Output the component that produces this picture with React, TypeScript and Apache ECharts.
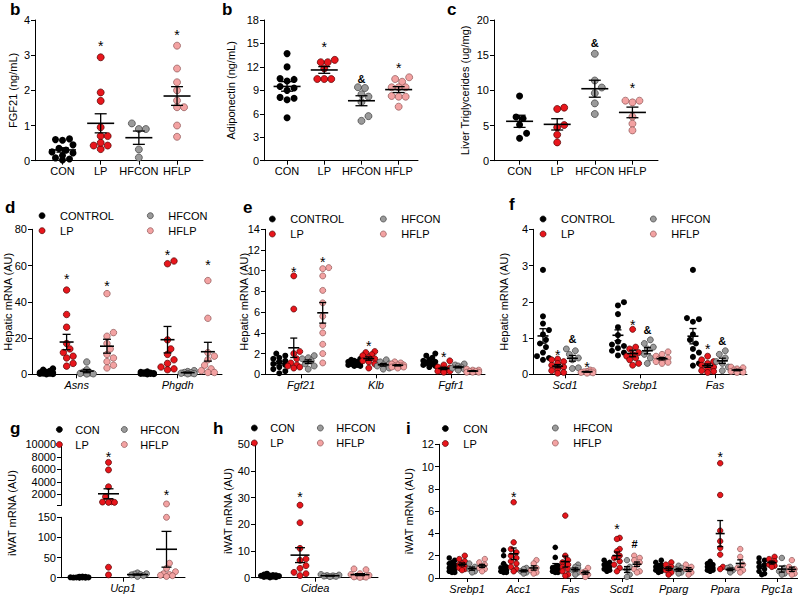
import React, { useEffect, useRef } from "react";
import * as echarts from "echarts";

const FONT = "'Liberation Sans', Arial, Helvetica, sans-serif";

// ---------- group names & colours ----------
const namesLong = ["CONTROL", "LP", "HFCON", "HFLP"];
const namesShort = ["CON", "LP", "HFCON", "HFLP"];
const fills = ["#000000", "#e8161c", "#9a9a9a", "#f3a2a2"];
const edges = ["#000000", "#520000", "#3c3c3c", "#8c5454"];

// ---------- panel b : plasma FGF21 ----------
const plasmaCategories = ["CON", "LP", "HFCON", "HFLP"];
const fgf21Axis = [0, 4, 1];
const fgf21Con = [0.6, 0.58, 0.62, 0.45, 0.35, 0.3, 0.22, 0.25, 0.15, 0.02, 0.05, 0.08];
const fgf21Lp = [2.94, 1.94, 1.7, 0.95, 0.7, 0.7, 0.43, 0.43, 0.33, 0.51];
const fgf21Hfcon = [1.06, 0.9, 0.9, 0.32, 0.09];
const fgf21Hflp = [3.27, 2.62, 2.23, 2.0, 1.71, 1.52, 1.52, 1.0, 0.68];
const sigFgf21 = [["*", 0, 1, 3.34], ["*", 0, 3, 3.65]];

// ---------- panel b : adiponectin ----------
const adipoAxis = [0, 18, 3];
const adipoCon = [13.7, 12.0, 10.5, 10.4, 10.2, 9.5, 9.3, 9.0, 8.1, 8.0, 7.8, 5.5];
const adipoLp = [12.6, 12.9, 12.6, 11.8, 10.45, 10.45, 10.45];
const adipoHfcon = [9.4, 9.3, 8.2, 8.5, 7.5, 5.7, 5.1];
const adipoHflp = [10.45, 10.67, 10.1, 9.39, 9.39, 9.39, 8.19, 8.19, 8.28, 6.91];
const sigAdipo = [["*", 0, 1, 14.9], ["&", 0, 2, 10.5], ["*", 0, 3, 12.2]];

// ---------- panel c : liver triglycerides ----------
const tgAxis = [0, 20, 5];
const tgCon = [9.2, 6.2, 6.0, 5.1, 3.9, 3.2];
const tgLp = [7.35, 7.54, 4.74, 5.07, 3.7, 2.6];
const tgHfcon = [15.2, 11.4, 10.4, 9.6, 8.15, 6.64];
const tgHflp = [8.53, 8.29, 8.53, 6.26, 5.26, 4.31];
const sigTg = [["&", 0, 2, 16.7], ["*", 0, 3, 10.76]];

// ---------- panel d : hepatic Asns / Phgdh ----------
const genesD = ["Asns", "Phgdh"];
const axisD = [0, 80, 20];
const asnsCon = [3.2, 2.5, 1.8, 1.2, 1.0, 0.8, 0.6, 0.5, 0.4, 0.3, 0.2, 0.1];
const asnsLp = [46.5, 33, 26, 17, 14, 12, 10, 9, 6, 4.5];
const asnsHfcon = [6.8, 2.5, 1.2, 0.8, 0.5, 0.3, 0.2];
const asnsHflp = [44.5, 23, 21, 17, 14, 11, 9, 7, 5, 3.5];
const phgdhCon = [1.5, 1.2, 1.0, 0.8, 0.7, 0.6, 0.5, 0.4, 0.3, 0.3, 0.2, 0.1];
const phgdhLp = [62.5, 61, 19, 14, 11, 8, 6, 4, 3, 2.5];
const phgdhHfcon = [2, 1.5, 1, 0.8, 0.6, 0.4, 0.3];
const phgdhHflp = [51.7, 30.9, 12, 10, 8, 5, 3, 2, 1, 1];
const sigD = [["*", 0, 1, 54.3], ["*", 0, 3, 50.6], ["*", 1, 1, 67.3], ["*", 1, 3, 61.8]];

// ---------- panel e : hepatic Fgf21 / Klb / Fgfr1 ----------
const genesE = ["Fgf21", "Klb", "Fgfr1"];
const axisE = [0, 14, 2];
const hFgf21Con = [2.0, 1.8, 1.6, 1.5, 1.3, 1.2, 1.0, 0.9, 0.7, 0.5, 0.3, 0.1];
const hFgf21Lp = [9.5, 6.3, 2.2, 2.0, 1.5, 1.1, 0.9, 0.8, 0.7, 0.6];
const hFgf21Hfcon = [1.8, 1.6, 1.5, 1.3, 1.0, 0.8, 0.5];
const hFgf21Hflp = [10.3, 10.2, 9.5, 8.1, 6.9, 5.6, 4.7, 4.0, 2.9, 2.0, 1.1];
const klbCon = [1.5, 1.4, 1.3, 1.2, 1.2, 1.1, 1.0, 1.0, 0.9, 0.9, 0.8, 0.8];
const klbLp = [2.2, 2.1, 1.9, 1.8, 1.6, 1.5, 1.3, 1.2, 1.0, 0.6];
const klbHfcon = [1.4, 1.2, 1.0, 0.9, 0.8, 0.6, 0.5];
const klbHflp = [1.2, 1.1, 1.0, 0.9, 0.9, 0.8, 0.8, 0.7, 0.7, 0.6];
const fgfr1Con = [2.0, 1.8, 1.6, 1.4, 1.3, 1.2, 1.1, 1.0, 1.0, 0.9, 0.8, 0.7];
const fgfr1Lp = [1.3, 0.9, 0.7, 0.6, 0.5, 0.4, 0.4, 0.3, 0.3, 0.2];
const fgfr1Hfcon = [1.0, 0.9, 0.8, 0.7, 0.6, 0.5, 0.4];
const fgfr1Hflp = [0.5, 0.4, 0.4, 0.3, 0.3, 0.2, 0.2, 0.2];
const sigE = [["*", 0, 1, 10.2], ["*", 0, 3, 11.1], ["*", 1, 1, 3.0], ["*", 2, 1, 1.96]];

// ---------- panel f : hepatic Scd1 / Srebp1 / Fas ----------
const genesF = ["Scd1", "Srebp1", "Fas"];
const axisF = [0, 4, 1];
const scd1Con = [2.88, 1.6, 1.4, 1.22, 1.1, 0.95, 0.85, 0.75, 0.6, 0.5, 0.45, 0.4];
const scd1Lp = [0.42, 0.4, 0.35, 0.3, 0.25, 0.2, 0.15, 0.1, 0.05, 0.03];
const scd1Hfcon = [0.7, 0.65, 0.55, 0.45, 0.4, 0.18, 0.16];
const scd1Hflp = [0.12, 0.1, 0.08, 0.07, 0.06, 0.05, 0.04, 0.03];
const srebp1Con = [1.99, 1.9, 1.66, 1.3, 1.08, 0.9, 0.82, 0.78, 0.72, 0.65, 0.6, 0.52];
const srebp1Lp = [1.24, 0.75, 0.7, 0.6, 0.55, 0.5, 0.45, 0.4, 0.3, 0.25];
const srebp1Hfcon = [0.95, 0.85, 0.75, 0.7, 0.55, 0.45, 0.3];
const srebp1Hflp = [0.62, 0.55, 0.5, 0.45, 0.42, 0.4, 0.38, 0.35, 0.33, 0.3];
const fasCon = [2.88, 1.55, 1.52, 1.45, 1.1, 0.95, 0.85, 0.7, 0.6, 0.48, 0.24, 0.3];
const fasLp = [0.5, 0.4, 0.35, 0.3, 0.25, 0.2, 0.15, 0.1, 0.08, 0.05];
const fasHfcon = [0.65, 0.55, 0.45, 0.35, 0.3, 0.2, 0.1];
const fasHflp = [0.2, 0.18, 0.15, 0.12, 0.1, 0.08, 0.06, 0.05];
const sigF = [["*", 0, 1, 0.61], ["&", 0, 2, 0.97], ["*", 0, 3, 0.29], ["*", 1, 1, 1.43], ["&", 1, 2, 1.22], ["*", 2, 1, 0.79], ["&", 2, 2, 0.93]];

// ---------- panel g : iWAT Ucp1 (broken axis) ----------
const genesG = ["Ucp1"];
const axisGLow = [0, 150, 50];
const axisGHigh = [200, 10000];
const ticksGHigh = [2000, 4000, 6000, 8000, 10000];
const ucp1Con = [3, 2.5, 2, 1.5, 1.2, 1, 0.8, 0.6, 0.5, 0.3, 0.2, 0.1];
const ucp1Lp = [7100, 5900, 3200, 1600, 800, 700, 700, 750, 26, 7];
const ucp1Hfcon = [12, 10, 9, 8, 7, 5, 3];
const ucp1Hflp = [450, 150, 36, 23, 15, 10, 8, 6, 5, 3];
const sigG = [["*", 0, 1, 8450], ["*", 0, 3, 2416]];

// ---------- panel h : iWAT Cidea ----------
const genesH = ["Cidea"];
const axisH = [0, 50, 10];
const cideaCon = [1.5, 1.2, 1.0, 0.9, 0.8, 0.7, 0.6, 0.5, 0.4, 0.3, 0.2, 0.1];
const cideaLp = [27.2, 20.6, 11, 7, 6.5, 4.5, 3.5, 2, 1.5, 0.8];
const cideaHfcon = [1.2, 1.0, 0.8, 0.7, 0.6, 0.5, 0.4];
const cideaHflp = [3.3, 3.0, 1.5, 1.2, 0.9, 0.6, 0.4, 0.3, 0.2, 0.1];
const sigH = [["*", 0, 1, 31.3]];

// ---------- panel i : iWAT lipid genes ----------
const genesI = ["Srebp1", "Acc1", "Fas", "Scd1", "Pparg", "Ppara", "Pgc1a"];
const axisI = [0, 12, 2];
const iSrebp1 = [[1.8, 1.6, 1.4, 1.3, 1.2, 1.0, 0.9, 0.8, 0.7, 0.6, 0.5, 0.5], [2.0, 1.7, 1.5, 1.3, 1.2, 1.1, 1.0, 0.9, 0.8, 0.7], [1.3, 1.0, 0.8, 0.6, 0.5], [1.7, 1.4, 1.2, 1.0, 0.9, 0.8, 0.6]];
const iAcc1 = [[2.5, 2.0, 1.3, 1.0, 0.9, 0.8, 0.7, 0.6, 0.6, 0.5, 0.5], [6.8, 3.2, 2.6, 2.3, 2.0, 1.8, 1.5, 1.3, 1.0, 0.8, 0.6], [0.9, 0.8, 0.6, 0.5, 0.4], [1.6, 1.3, 0.9, 0.7, 0.5, 0.4]];
const iFas = [[2.75, 1.85, 1.1, 1.0, 0.9, 0.8, 0.7, 0.6, 0.5, 0.5], [5.6, 2.0, 1.6, 1.4, 1.2, 1.0, 0.8, 0.6, 0.3, 0.2], [1.2, 1.0, 0.9, 0.7, 0.5, 0.3], [0.9, 0.6, 0.5, 0.3, 0.1]];
const iScd1 = [[1.6, 1.4, 1.3, 1.2, 1.0, 0.9, 0.8, 0.7, 0.6], [3.6, 3.5, 2.6, 2.4, 2.0, 1.8, 1.5, 1.2, 0.9, 0.6], [1.6, 1.0, 0.8, 0.3, 0.1], [2.0, 1.8, 1.6, 1.4, 1.2, 0.8, 0.6, 0.5]];
const iPparg = [[1.6, 1.4, 1.2, 1.1, 1.0, 0.9, 0.8, 0.7, 0.6, 0.5], [1.4, 1.2, 1.0, 0.8, 0.7, 0.5, 0.3], [1.1, 0.9, 0.8, 0.5, 0.4], [1.2, 1.0, 0.8, 0.5, 0.3]];
const iPpara = [[1.5, 1.3, 1.2, 1.1, 1.0, 0.9, 0.8, 0.7, 0.7, 0.6], [10.3, 7.45, 4.25, 3.3, 2.7, 2.1, 1.0, 0.8], [1.0, 0.9, 0.7, 0.5], [2.6, 1.9, 1.2, 0.9, 0.7, 0.5]];
const iPgc1a = [[1.8, 1.6, 1.4, 1.2, 1.0, 0.8, 0.6, 0.4, 0.3], [1.9, 1.7, 1.5, 1.3, 1.2, 1.1, 1.0], [1.8, 0.9, 0.6, 0.4, 0.3], [1.6, 1.0, 0.8, 0.6, 0.4, 0.3]];
const sigI = [["*", 1, 1, 7.5], ["*", 3, 1, 4.7], ["#", 3, 2.75, 3.05], ["*", 5, 1, 11.1]];

// ---------- panel layout ----------
const specs: any[] = [
  { grid: { left: 35, top: 20, width: 168, height: 140.7 }, yRange: fgf21Axis, x: [-0.72, 3.68], shift: 1.5, sub: 1,
    labels: plasmaCategories, labelAt: [0, 1, 2, 3], italic: false, genes: [[fgf21Con, fgf21Lp, fgf21Hfcon, fgf21Hflp]],
    names: namesShort, dot: 7, maxOff: 12, mw: 27, cw: 12, yName: "FGF21 (ng/mL)", nameGap: 17, sig: sigFgf21 },
  { grid: { left: 264, top: 20, width: 154, height: 140.7 }, yRange: adipoAxis, x: [-0.62, 3.52], shift: 1.5, sub: 1,
    labels: plasmaCategories, labelAt: [0, 1, 2, 3], italic: false, genes: [[adipoCon, adipoLp, adipoHfcon, adipoHflp]],
    names: namesShort, dot: 7, maxOff: 12, mw: 27, cw: 12, yName: "Adiponectin (ng/mL)", nameGap: 28, sig: sigAdipo },
  { grid: { left: 494, top: 20, width: 164, height: 140.7 }, yRange: tgAxis, x: [-0.68, 3.68], shift: 1.5, sub: 1,
    labels: plasmaCategories, labelAt: [0, 1, 2, 3], italic: false, genes: [[tgCon, tgLp, tgHfcon, tgHflp]],
    names: namesShort, dot: 7, maxOff: 12, mw: 27, cw: 12, yName: "Liver Triglycerides (ug/mg)", nameGap: 24, sig: sigTg },
  { grid: { left: 32, top: 229.3, width: 190, height: 145 }, yRange: axisD, x: [-0.443, 1.44], shift: 0, sub: 0.2,
    labels: genesD, labelAt: [0, 1], italic: true,
    genes: [[asnsCon, asnsLp, asnsHfcon, asnsHflp], [phgdhCon, phgdhLp, phgdhHfcon, phgdhHflp]],
    names: namesLong, dot: 6.5, maxOff: 8, mw: 14, cw: 8, yName: "Hepatic mRNA (AU)", nameGap: 19, sig: sigD },
  { grid: { left: 265, top: 229.3, width: 220, height: 145 }, yRange: axisE, x: [-0.48, 2.453], shift: 0, sub: 0.193,
    labels: genesE, labelAt: [0, 1, 2], italic: true,
    genes: [[hFgf21Con, hFgf21Lp, hFgf21Hfcon, hFgf21Hflp], [klbCon, klbLp, klbHfcon, klbHflp], [fgfr1Con, fgfr1Lp, fgfr1Hfcon, fgfr1Hflp]],
    names: namesLong, dot: 6, maxOff: 6, mw: 11, cw: 7, yName: "Hepatic mRNA (AU)", nameGap: 16, sig: sigE },
  { grid: { left: 533, top: 229.3, width: 214, height: 145 }, yRange: axisF, x: [-0.427, 2.427], shift: 0, sub: 0.196,
    labels: genesF, labelAt: [0, 1, 2], italic: true,
    genes: [[scd1Con, scd1Lp, scd1Hfcon, scd1Hflp], [srebp1Con, srebp1Lp, srebp1Hfcon, srebp1Hflp], [fasCon, fasLp, fasHfcon, fasHflp]],
    names: namesLong, dot: 6, maxOff: 6, mw: 11, cw: 7, yName: "Hepatic mRNA (AU)", nameGap: 24, sig: sigF },
  { grid: { left: 61, top: 517.3, width: 124, height: 60.4 }, yRange: axisGLow, x: [-0.62, 0.62], shift: 0, sub: 0.29,
    labels: genesG, labelAt: [0], italic: true, genes: [[ucp1Con, ucp1Lp, ucp1Hfcon, ucp1Hflp]],
    names: namesShort, dot: 6, maxOff: 10, mw: 21, cw: 10, yName: "", nameGap: 0, sig: sigG,
    upper: { grid: { left: 61, top: 444.3, width: 124, height: 61.2 }, range: axisGHigh, ticks: ticksGHigh, thr: 150 } },
  { grid: { left: 255, top: 444.3, width: 123, height: 133.4 }, yRange: axisH, x: [-0.6, 0.63], shift: 0, sub: 0.3,
    labels: genesH, labelAt: [0], italic: true, genes: [[cideaCon, cideaLp, cideaHfcon, cideaHflp]],
    names: namesShort, dot: 6, maxOff: 10, mw: 19, cw: 10, yName: "iWAT mRNA (AU)", nameGap: 22, sig: sigH },
  { grid: { left: 439, top: 444.3, width: 359, height: 133.7 }, yRange: axisI, x: [-0.543, 6.41], shift: 0, sub: 0.194,
    labels: genesI, labelAt: [0, 1, 2, 3, 4, 5, 6], italic: true,
    genes: [iSrebp1, iAcc1, iFas, iScd1, iPparg, iPpara, iPgc1a],
    names: namesShort, dot: 5.5, maxOff: 4, mw: 9, cw: 6, yName: "iWAT mRNA (AU)", nameGap: 25, sig: sigI },
];

const legends = [
  { left: 38.7, top: 210.2, w: 26, data: ["CONTROL", "LP"] }, { left: 147, top: 210.2, w: 26, data: ["HFCON", "HFLP"] },
  { left: 269, top: 213.5, w: 26, data: ["CONTROL", "LP"] }, { left: 380, top: 213.5, w: 26, data: ["HFCON", "HFLP"] },
  { left: 539.7, top: 213.5, w: 26, data: ["CONTROL", "LP"] }, { left: 650, top: 213.5, w: 26, data: ["HFCON", "HFLP"] },
  { left: 56, top: 424, w: 22, data: ["CON", "LP"] }, { left: 121, top: 424, w: 22, data: ["HFCON", "HFLP"] },
  { left: 251, top: 422.5, w: 22, data: ["CON", "LP"] }, { left: 317, top: 422.5, w: 22, data: ["HFCON", "HFLP"] },
  { left: 442, top: 423, w: 26, data: ["CON", "LP"] }, { left: 552, top: 422.5, w: 26, data: ["HFCON", "HFLP"] },
];

const panelLetters: [string, number, number][] = [
  ["b", 10, 9], ["b", 222, 9], ["c", 447, 9], ["d", 5, 207], ["e", 243, 207], ["f", 509, 204],
  ["g", 10, 428], ["h", 213, 428], ["i", 406, 428],
];

// ---------- helpers ----------
function meanOf(a: number[]) { return a.reduce((s, v) => s + v, 0) / a.length; }
function semOf(a: number[]) {
  const m = meanOf(a);
  const v = a.reduce((s, x) => s + (x - m) * (x - m), 0) / (a.length - 1);
  return Math.sqrt(v) / Math.sqrt(a.length);
}

// beeswarm: returns horizontal pixel offsets so that dots do not overlap
function swarm(py: number[], d: number, maxOff: number): number[] {
  const order = py.map((_, i) => i).sort((a, b) => py[b] - py[a]);
  const placed: [number, number][] = [];
  const off = new Array(py.length).fill(0);
  const cands: number[] = [0];
  const step = d * 0.5;
  for (let s = step; s <= maxOff + 1e-6; s += step) cands.push(s, -s);
  for (const i of order) {
    let best = 0, bestScore = -Infinity;
    for (const c of cands) {
      let minD = Infinity;
      for (const [px, pyy] of placed) {
        const dd = Math.hypot(px - c, pyy - py[i]);
        if (dd < minD) minD = dd;
      }
      if (minD >= d * 0.95) { best = c; break; }
      if (minD > bestScore + 0.5) { bestScore = minD; best = c; }
    }
    off[i] = best;
    placed.push([best, py[i]]);
  }
  return off;
}

const axisLineStyle = { color: "#000", width: 1 };

function yAxisOpt(gi: number, min: number, max: number, interval: number | undefined, name: string, nameGap: number) {
  const o: any = {
    gridIndex: gi, type: "value", min, max,
    splitLine: { show: false },
    axisLine: { show: true, onZero: false, lineStyle: axisLineStyle },
    axisTick: { show: true, length: 4, lineStyle: axisLineStyle },
    axisLabel: { fontSize: 11, color: "#000", margin: 5, fontFamily: FONT, formatter: (v: number) => String(v) },
    name, nameLocation: "middle", nameGap, nameRotate: 90, nameMoveOverlap: false,
    nameTextStyle: { fontSize: 11, color: "#000", fontFamily: FONT },
  };
  if (interval !== undefined) o.interval = interval;
  return o;
}

function xAxisOpt(gi: number, p: any) {
  return {
    gridIndex: gi, type: "value", min: p.x[0], max: p.x[1],
    splitLine: { show: false },
    axisLine: { show: true, onZero: false, lineStyle: axisLineStyle },
    axisTick: { show: true, length: 4, customValues: p.labelAt, lineStyle: axisLineStyle },
    axisLabel: {
      show: true, customValues: p.labelAt, fontSize: 11, color: "#000", margin: 5, fontFamily: FONT,
      fontStyle: p.italic ? "italic" : "normal",
      formatter: (v: number) => {
        const idx = p.labelAt.findIndex((a: number) => Math.abs(a - v) < 1e-6);
        return idx >= 0 ? p.labels[idx] : "";
      },
    },
  };
}

function dotSeries(name: string, ai: number, data: number[][], k: number, size: number) {
  return {
    type: "scatter", name, xAxisIndex: ai, yAxisIndex: ai, data, symbol: "circle", symbolSize: size,
    itemStyle: { color: fills[k], borderColor: edges[k], borderWidth: k === 0 ? 0 : 0.7, opacity: 1 },
    silent: true, z: 2, clip: false,
  };
}

function meanSeries(ai: number, data: number[][], mw: number, cw: number, floor: number) {
  return {
    type: "custom", xAxisIndex: ai, yAxisIndex: ai, silent: true, z: 4, data,
    encode: { x: 0, y: 1 },
    renderItem: (_params: any, api: any) => {
      const x = api.value(0), m = api.value(1), s = api.value(2);
      const c = api.coord([x, m]);
      const hi = api.coord([x, m + s]);
      const lo = api.coord([x, Math.max(m - s, floor)]);
      const st = { stroke: "#000", lineWidth: 1.3 };
      return {
        type: "group",
        children: [
          { type: "line", shape: { x1: c[0] - mw / 2, y1: c[1], x2: c[0] + mw / 2, y2: c[1] }, style: { stroke: "#000", lineWidth: 1.6 } },
          { type: "line", shape: { x1: c[0], y1: lo[1], x2: c[0], y2: hi[1] }, style: st },
          { type: "line", shape: { x1: c[0] - cw / 2, y1: hi[1], x2: c[0] + cw / 2, y2: hi[1] }, style: st },
          { type: "line", shape: { x1: c[0] - cw / 2, y1: lo[1], x2: c[0] + cw / 2, y2: lo[1] }, style: st },
        ],
      };
    },
  };
}

function sigSeries(ai: number, items: { x: number; y: number; t: string }[]) {
  return {
    type: "custom", xAxisIndex: ai, yAxisIndex: ai, silent: true, z: 5,
    data: items.map((it, i) => [it.x, it.y, i]),
    encode: { x: 0, y: 1 },
    renderItem: (_params: any, api: any) => {
      const it = items[api.value(2)];
      const c = api.coord([api.value(0), api.value(1)]);
      const star = it.t === "*";
      return {
        type: "text", x: c[0], y: c[1] + (star ? 3 : 0),
        style: {
          text: it.t, fontSize: star ? 14 : 11, fontWeight: star ? "normal" : "bold", fontFamily: FONT,
          fill: "#000", align: "center", verticalAlign: "middle",
        },
      };
    },
  };
}

function buildOption() {
  const grid: any[] = [], xAxis: any[] = [], yAxis: any[] = [], series: any[] = [];
  specs.forEach((p) => {
    const gi = grid.length;
    grid.push({ ...p.grid, outerBoundsMode: "none", containLabel: false });
    xAxis.push(xAxisOpt(gi, p));
    const [y0, y1, yi] = p.yRange;
    yAxis.push(yAxisOpt(gi, y0, y1, yi, p.yName, p.nameGap));
    const up = p.upper;
    let ui = -1;
    if (up) {
      ui = grid.length;
      grid.push({ ...up.grid, outerBoundsMode: "none", containLabel: false });
      xAxis.push({ gridIndex: ui, type: "value", min: p.x[0], max: p.x[1], show: false });
      const ya = yAxisOpt(ui, up.range[0], up.range[1], undefined, "", 0);
      ya.axisLabel.customValues = up.ticks;
      ya.axisTick.customValues = [up.range[0], ...up.ticks];
      yAxis.push(ya);
    }
    const pxu = p.grid.width / (p.x[1] - p.x[0]);
    const isUp = (v: number) => !!up && v > up.thr;
    const toPy = (v: number) =>
      isUp(v)
        ? up.grid.top + ((up.range[1] - v) * up.grid.height) / (up.range[1] - up.range[0])
        : p.grid.top + ((y1 - v) * p.grid.height) / (y1 - y0);
    const xPos = (g: number, k: number) => g + (k - 1.5) * p.sub + p.shift;

    for (let k = 0; k < 4; k++) {
      const low: number[][] = [], high: number[][] = [];
      p.genes.forEach((gv: number[][], g: number) => {
        const vals = gv[k];
        const offs = swarm(vals.map(toPy), p.dot, p.maxOff);
        vals.forEach((v, i) => (isUp(v) ? high : low).push([xPos(g, k) + offs[i] / pxu, v]));
      });
      series.push(dotSeries(p.names[k], gi, low, k, p.dot));
      if (high.length) series.push(dotSeries(p.names[k], ui, high, k, p.dot));
    }

    const mLow: number[][] = [], mHigh: number[][] = [];
    p.genes.forEach((gv: number[][], g: number) =>
      gv.forEach((vals, k) => {
        const m = meanOf(vals), s = semOf(vals);
        (isUp(m) ? mHigh : mLow).push([xPos(g, k), m, s]);
      })
    );
    series.push(meanSeries(gi, mLow, p.mw, p.cw, y0));
    if (mHigh.length) series.push(meanSeries(ui, mHigh, p.mw, p.cw, up.range[0]));

    const sLow: any[] = [], sHigh: any[] = [];
    p.sig.forEach(([t, g, k, y]: any) => (isUp(y) ? sHigh : sLow).push({ t, x: xPos(g, k), y }));
    if (sLow.length) series.push(sigSeries(gi, sLow));
    if (sHigh.length) series.push(sigSeries(ui, sHigh));
  });

  const legend = legends.map((l) => ({
    left: l.left, top: l.top, orient: "vertical", data: l.data, icon: "circle",
    itemWidth: l.w, itemHeight: 6, itemGap: 4, padding: 0, selectedMode: false,
    itemStyle: { borderWidth: 0.7 },
    textStyle: { fontSize: 11, color: "#000", fontFamily: FONT },
  }));

  const graphic: any[] = panelLetters.map(([t, x, y]) => ({
    type: "text", x, y, silent: true,
    style: { text: t, fontSize: 17, fontWeight: "bold", fontFamily: FONT, fill: "#000", align: "left", verticalAlign: "middle" },
  }));
  graphic.push({
    type: "text", x: 12, y: 513, rotation: Math.PI / 2, silent: true,
    style: { text: "iWAT mRNA (AU)", fontSize: 11, fontFamily: FONT, fill: "#000", align: "center", verticalAlign: "middle" },
  });

  return {
    animation: false,
    backgroundColor: "#fff",
    textStyle: { fontFamily: FONT },
    grid, xAxis, yAxis, series, legend, graphic,
  };
}

export default function App() {
  const ref = useRef<HTMLDivElement>(null);
  useEffect(() => {
    if (!ref.current) return;
    const chart = echarts.init(ref.current, undefined, { renderer: "svg" });
    chart.setOption(buildOption() as any);
    return () => chart.dispose();
  }, []);
  return (
    <div
      ref={ref}
      style={{ position: "fixed", left: 0, top: 0, width: 798, height: 599, background: "#fff" }}
    />
  );
}
